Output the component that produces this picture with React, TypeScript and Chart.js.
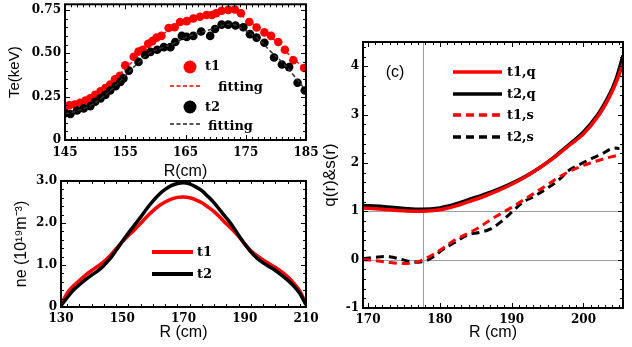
import React, { useEffect, useRef } from 'react';
import { Chart, registerables } from 'chart.js';
Chart.register(...registerables);

// ---------- Panel (a): Te profiles ----------
const teR1 = [145.0,145.7,146.6,147.5,148.4,149.2,150.0,150.9,151.7,152.5,153.3,154.1,155.0,156.4,157.2,157.9,158.8,159.5,160.2,161.0,162.2,163.2,164.1,165.2,166.3,167.4,168.5,169.4,170.1,171.0,172.1,173.2,174.2,175.6,176.8,178.1,179.2,180.4,181.5,182.9,184.7];
const te1 = [0.19,0.20,0.205,0.215,0.228,0.24,0.26,0.28,0.30,0.32,0.35,0.37,0.43,0.48,0.51,0.52,0.555,0.57,0.59,0.60,0.645,0.65,0.68,0.685,0.70,0.71,0.72,0.72,0.73,0.745,0.75,0.752,0.73,0.68,0.648,0.62,0.60,0.565,0.52,0.46,0.415];
const teR2 = [145.0,145.9,147.0,148.1,149.2,150.0,150.9,151.7,152.5,153.4,154.2,154.7,155.6,157.2,158.3,159.2,160.3,161.4,162.5,163.3,164.4,165.2,166.3,167.6,169.1,169.9,171.0,172.1,173.3,174.6,175.7,176.8,178.1,179.7,181.0,182.2,183.6,184.8];
const te2 = [0.155,0.15,0.17,0.182,0.195,0.22,0.24,0.26,0.285,0.31,0.335,0.355,0.40,0.45,0.49,0.508,0.52,0.535,0.535,0.565,0.60,0.594,0.60,0.625,0.60,0.64,0.665,0.665,0.66,0.65,0.61,0.59,0.56,0.475,0.435,0.42,0.33,0.285];
const fitR = [145,147,149,151,153,155,157,159,161,163,165,167,169,171,173,175,177,179,181,183,185];
const fit1 = [0.19,0.21,0.24,0.285,0.345,0.41,0.48,0.55,0.605,0.645,0.678,0.705,0.725,0.742,0.745,0.70,0.648,0.60,0.535,0.465,0.41];
const fit2 = [0.15,0.168,0.195,0.24,0.30,0.37,0.44,0.50,0.53,0.556,0.59,0.615,0.635,0.66,0.665,0.63,0.585,0.515,0.45,0.37,0.285];
const teYTicks = [0, 0.25, 0.5, 0.75];
const teXTicks = [145, 155, 165, 175, 185];

// ---------- Panel (b): ne profiles ----------
const neR = [130,132,134,136,138,140,142,144,146,148,150,152,154,156,158,160,162,164,166,168,170,172,174,176,178,180,182,184,186,188,190,192,194,196,198,200,202,204,206,208,210];
const ne1 = [0.05,0.33,0.5,0.63,0.76,0.87,0.97,1.08,1.22,1.39,1.55,1.7,1.84,1.99,2.15,2.29,2.41,2.5,2.57,2.61,2.62,2.6,2.55,2.48,2.38,2.27,2.13,1.98,1.84,1.68,1.5,1.34,1.22,1.12,1.03,0.94,0.84,0.72,0.57,0.38,0.07];
const ne2 = [0.03,0.22,0.4,0.53,0.65,0.76,0.86,0.99,1.15,1.35,1.56,1.76,1.95,2.14,2.34,2.52,2.68,2.8,2.89,2.94,2.96,2.93,2.86,2.77,2.63,2.48,2.3,2.12,1.93,1.71,1.5,1.31,1.16,1.05,0.96,0.87,0.76,0.64,0.5,0.32,0.05];
const neYTicks = [0, 1, 2, 3];
const neXTicks = [130, 150, 170, 190, 210];

// ---------- Panel (c): q and shear ----------
const qR = [169.3,172,175,177.5,180,182,184,186,188,190,192,194,196,198,200,202,203.5,204.5,205.5];
const q1 = [1.07,1.04,1.01,1.00,1.03,1.10,1.20,1.30,1.42,1.56,1.72,1.91,2.12,2.36,2.60,2.96,3.33,3.65,4.05];
const q2 = [1.12,1.10,1.06,1.04,1.07,1.14,1.24,1.34,1.45,1.58,1.73,1.91,2.13,2.38,2.64,3.00,3.38,3.72,4.22];
const sR = [169.3,171,173,175,176.5,177.7,179,180.5,182,184,185.5,187,188.5,190,191.5,193,195,196.5,198,199.5,201,202.5,204,205];
const s1 = [0.0,-0.02,-0.06,-0.08,-0.06,0.0,0.1,0.24,0.40,0.55,0.67,0.82,0.95,1.08,1.22,1.36,1.55,1.70,1.82,1.92,2.0,2.07,2.13,2.16];
const s2 = [0.02,0.05,0.06,-0.01,-0.05,-0.04,0.05,0.22,0.35,0.52,0.56,0.63,0.78,0.98,1.18,1.30,1.48,1.64,1.85,1.97,2.08,2.18,2.30,2.30];
const qYTicks = [-1, 0, 1, 2, 3, 4];
const qXTicks = [170, 180, 190, 200];
const qRefLevels = [0, 1];
const qRefR = 177.7;

const RED = '#ff0000';
const BLACK = '#000000';
const TICK_FONT = { family: 'DejaVu Serif', size: 12, weight: 'bold' as const };
const LEG_FONT = 'bold 13px "DejaVu Serif"';

const pts = (xs: number[], ys: number[]) => xs.map((x, i) => ({ x, y: ys[i] }));
const range = (a: number, b: number, st: number) => {
  const out: number[] = [];
  for (let v = a; v <= b + 1e-9; v += st) out.push(+v.toFixed(6));
  return out;
};

function boxPlugin(xMinorStep: number, yMinorStep: number, xMajor: number[], yMajor: number[]) {
  return {
    id: 'box',
    afterDatasetsDraw(chart: any) {
      const { ctx, chartArea: a, scales } = chart;
      const x = scales.x, y = scales.y;
      ctx.save();
      ctx.strokeStyle = '#000';
      ctx.lineWidth = 1;
      ctx.beginPath();
      const xs = range(Math.ceil(x.min / xMinorStep) * xMinorStep, x.max, xMinorStep);
      for (const v of xs) {
        const p = Math.round(x.getPixelForValue(v)) + 0.5;
        const L = xMajor.some((m) => Math.abs(m - v) < 1e-6) ? 5 : 3;
        ctx.moveTo(p, a.bottom); ctx.lineTo(p, a.bottom - L);
        ctx.moveTo(p, a.top); ctx.lineTo(p, a.top + L);
      }
      const ys = range(Math.ceil(y.min / yMinorStep) * yMinorStep, y.max, yMinorStep);
      for (const v of ys) {
        const p = Math.round(y.getPixelForValue(v)) + 0.5;
        const L = yMajor.some((m) => Math.abs(m - v) < 1e-6) ? 5 : 3;
        ctx.moveTo(a.left, p); ctx.lineTo(a.left + L, p);
        ctx.moveTo(a.right, p); ctx.lineTo(a.right - L, p);
      }
      ctx.stroke();
      ctx.lineWidth = 2;
      ctx.strokeRect(a.left, a.top, a.right - a.left, a.bottom - a.top);
      ctx.restore();
    },
  };
}

function fixAxis(size: number) {
  return (scale: any) => {
    if (scale.isHorizontal()) { scale.height = size; scale.paddingLeft = 0; scale.paddingRight = 0; }
    else { scale.width = size; scale.paddingTop = 0; scale.paddingBottom = 0; }
  };
}
const setTicks = (vals: number[]) => (scale: any) => { scale.ticks = vals.map((v) => ({ value: v })); };

function makeScales(o: any) {
  return {
    x: {
      type: 'linear', min: o.xmin, max: o.xmax,
      afterBuildTicks: setTicks(o.xticks),
      afterFit: fixAxis(o.xh),
      grid: { display: false, drawTicks: false },
      border: { display: false },
      ticks: { font: TICK_FONT, color: '#000', padding: o.xpad, maxRotation: 0, autoSkip: false, callback: o.xfmt || ((v: number) => String(v)) },
      title: { display: true, text: o.xtitle, color: '#000', font: { family: 'Liberation Sans', size: 16 }, padding: { top: 0, bottom: o.xtpad } },
    },
    y: {
      type: 'linear', min: o.ymin, max: o.ymax,
      afterBuildTicks: setTicks(o.yticks),
      afterFit: fixAxis(o.yw),
      grid: { display: false, drawTicks: false },
      border: { display: false },
      ticks: { font: TICK_FONT, color: '#000', padding: o.ypad, autoSkip: false, callback: o.yfmt },
      title: { display: true, text: o.ytitle, color: '#000', font: { family: 'Liberation Sans', size: o.ytsize }, padding: { top: o.ytpad, bottom: 0 } },
    },
  };
}

const baseOpts = (padding: any, scales: any) => ({
  responsive: false,
  animation: false,
  maintainAspectRatio: false,
  layout: { padding },
  plugins: { legend: { display: false }, tooltip: { enabled: false } },
  scales,
});

function useChart(ref: React.RefObject<HTMLCanvasElement>, build: () => any) {
  useEffect(() => {
    const c = new Chart(ref.current as HTMLCanvasElement, build());
    return () => c.destroy();
  }, []);
}

function legendA() {
  return {
    id: 'legA',
    afterDraw(chart: any) {
      const ctx = chart.ctx;
      ctx.save();
      ctx.font = LEG_FONT; ctx.textBaseline = 'middle'; ctx.fillStyle = '#000';
      ctx.fillStyle = RED; ctx.beginPath(); ctx.arc(190, 67, 6.5, 0, Math.PI * 2); ctx.fill();
      ctx.fillStyle = BLACK; ctx.beginPath(); ctx.arc(190, 107, 6.5, 0, Math.PI * 2); ctx.fill();
      ctx.lineWidth = 1.5; ctx.setLineDash([4, 2.5]);
      ctx.strokeStyle = RED; ctx.beginPath(); ctx.moveTo(170, 86); ctx.lineTo(202, 86); ctx.stroke();
      ctx.strokeStyle = '#222'; ctx.beginPath(); ctx.moveTo(170, 124); ctx.lineTo(202, 124); ctx.stroke();
      ctx.setLineDash([]);
      ctx.fillStyle = '#000';
      ctx.fillText('t1', 205, 67);
      ctx.fillText('fitting', 218, 88);
      ctx.fillText('t2', 205, 108);
      ctx.fillText('fitting', 208, 127);
      ctx.restore();
    },
  };
}

const B_TOP = 165;

function legendB() {
  return {
    id: 'legB',
    afterDraw(chart: any) {
      const ctx = chart.ctx;
      const oy = B_TOP;
      ctx.save();
      ctx.font = LEG_FONT; ctx.textBaseline = 'middle';
      ctx.lineWidth = 4;
      ctx.strokeStyle = RED; ctx.beginPath(); ctx.moveTo(152, 252 - oy); ctx.lineTo(193, 252 - oy); ctx.stroke();
      ctx.strokeStyle = BLACK; ctx.beginPath(); ctx.moveTo(152, 274 - oy); ctx.lineTo(193, 274 - oy); ctx.stroke();
      ctx.fillStyle = '#000';
      ctx.fillText('t1', 197, 253 - oy);
      ctx.fillText('t2', 197, 275 - oy);
      ctx.restore();
    },
  };
}

function legendC() {
  return {
    id: 'legC',
    beforeDatasetsDraw(chart: any) {
      const { ctx, chartArea: a, scales } = chart;
      ctx.save();
      ctx.strokeStyle = '#a0a0a0'; ctx.lineWidth = 1;
      ctx.beginPath();
      for (const lv of qRefLevels) {
        const p = Math.round(scales.y.getPixelForValue(lv)) + 0.5;
        ctx.moveTo(a.left, p); ctx.lineTo(a.right, p);
      }
      const px = Math.round(scales.x.getPixelForValue(qRefR)) + 0.5;
      ctx.moveTo(px, a.top); ctx.lineTo(px, a.bottom);
      ctx.stroke();
      ctx.restore();
    },
    afterDraw(chart: any) {
      const ctx = chart.ctx;
      const ox = 320;
      ctx.save();
      ctx.textBaseline = 'middle';
      ctx.font = '16px "Liberation Sans"'; ctx.fillStyle = '#000';
      ctx.textAlign = 'center';
      ctx.fillText('(c)', 395 - ox, 73);
      ctx.textAlign = 'left';
      const rows = [
        { t: 't1,q', c: RED, d: [] as number[], y: 72 },
        { t: 't2,q', c: BLACK, d: [] as number[], y: 94 },
        { t: 't1,s', c: RED, d: [8, 5], y: 115 },
        { t: 't2,s', c: BLACK, d: [8, 5], y: 137 },
      ];
      ctx.font = LEG_FONT;
      for (const r of rows) {
        ctx.strokeStyle = r.c; ctx.lineWidth = 3.5; ctx.setLineDash(r.d);
        ctx.beginPath(); ctx.moveTo(453 - ox, r.y); ctx.lineTo(502 - ox, r.y); ctx.stroke();
        ctx.fillText(r.t, 507 - ox, r.y + 1);
      }
      ctx.restore();
    },
  };
}

function PanelA() {
  const ref = useRef<HTMLCanvasElement>(null);
  useChart(ref, () => ({
    type: 'scatter',
    data: {
      datasets: [
        { data: pts(fitR, fit1), showLine: true, borderColor: RED, borderWidth: 1.5, borderDash: [4, 2.5], pointRadius: 0, tension: 0.4, order: 0 },
        { data: pts(fitR, fit2), showLine: true, borderColor: '#333', borderWidth: 1.5, borderDash: [4, 2.5], pointRadius: 0, tension: 0.4, order: 0 },
        { data: pts(teR1, te1), showLine: false, backgroundColor: RED, borderWidth: 0, pointRadius: 4.3, order: 2 },
        { data: pts(teR2, te2), showLine: false, backgroundColor: BLACK, borderWidth: 0, pointRadius: 4.3, order: 1 },
      ],
    },
    options: baseOpts({ left: 0, top: 4, right: 14, bottom: 0 }, makeScales({
      xmin: 145, xmax: 185, xticks: teXTicks, xh: 45, xpad: 6, xtitle: 'R(cm)', xtpad: 3.5,
      ymin: 0, ymax: 0.782, yticks: teYTicks, yw: 65, ypad: 4, ytitle: 'Te(keV)', ytsize: 15, ytpad: 6,
      yfmt: (v: number) => (v === 0 ? '0' : v.toFixed(2)),
    })),
    plugins: [boxPlugin(1, 0.05, teXTicks, teYTicks), legendA()],
  }));
  return <canvas ref={ref} width={320} height={185} style={{ position: 'absolute', left: 0, top: 0 }} />;
}

function PanelB() {
  const ref = useRef<HTMLCanvasElement>(null);
  useChart(ref, () => ({
    type: 'line',
    data: {
      datasets: [
        { data: pts(neR, ne2), borderColor: BLACK, borderWidth: 3.5, pointRadius: 0, tension: 0.3 },
        { data: pts(neR, ne1), borderColor: RED, borderWidth: 3.5, pointRadius: 0, tension: 0.3 },
      ],
    },
    options: baseOpts({ left: 0, top: 181 - B_TOP, right: 14, bottom: 0 }, makeScales({
      xmin: 130, xmax: 210, xticks: neXTicks, xh: 40, xpad: 5, xtitle: 'R (cm)', xtpad: 4.4,
      ymin: 0, ymax: 3, yticks: neYTicks, yw: 61, ypad: 4, ytitle: 'ne (10¹⁹m⁻³)', ytsize: 16, ytpad: 12,
      yfmt: (v: number) => (v === 0 ? '0' : v.toFixed(1)),
    })),
    plugins: [boxPlugin(4, 0.2, neXTicks, neYTicks), legendB()],
  }));
  return <canvas ref={ref} width={320} height={347 - B_TOP} style={{ position: 'absolute', left: 0, top: B_TOP }} />;
}

function PanelC() {
  const ref = useRef<HTMLCanvasElement>(null);
  useChart(ref, () => ({
    type: 'line',
    data: {
      datasets: [
        { data: pts(sR, s1), borderColor: RED, borderWidth: 3, borderDash: [8, 5], pointRadius: 0, tension: 0.35 },
        { data: pts(sR, s2), borderColor: BLACK, borderWidth: 3, borderDash: [8, 5], pointRadius: 0, tension: 0.35 },
        { data: pts(qR, q1), borderColor: RED, borderWidth: 3.5, pointRadius: 0, tension: 0.35 },
        { data: pts(qR, q2), borderColor: BLACK, borderWidth: 3.5, pointRadius: 0, tension: 0.35 },
      ],
    },
    options: baseOpts({ left: 0, top: 42, right: 9, bottom: 0 }, makeScales({
      xmin: 169.3, xmax: 205.5, xticks: qXTicks, xh: 39, xpad: 5, xtitle: 'R (cm)', xtpad: 4.4,
      ymin: -1, ymax: 4.5, yticks: qYTicks, yw: 43, ypad: 4, ytitle: 'q(r)&s(r)', ytsize: 17, ytpad: 0,
      yfmt: (v: number) => String(v),
    })),
    plugins: [boxPlugin(1, 0.2, qXTicks, qYTicks), legendC()],
  }));
  return <canvas ref={ref} width={312} height={347} style={{ position: 'absolute', left: 320, top: 0 }} />;
}

export default function App() {
  return (
    <div style={{ position: 'fixed', left: 0, top: 0, width: 632, height: 347, background: '#fff', overflow: 'hidden' }}>
      <PanelA />
      <PanelB />
      <PanelC />
    </div>
  );
}
